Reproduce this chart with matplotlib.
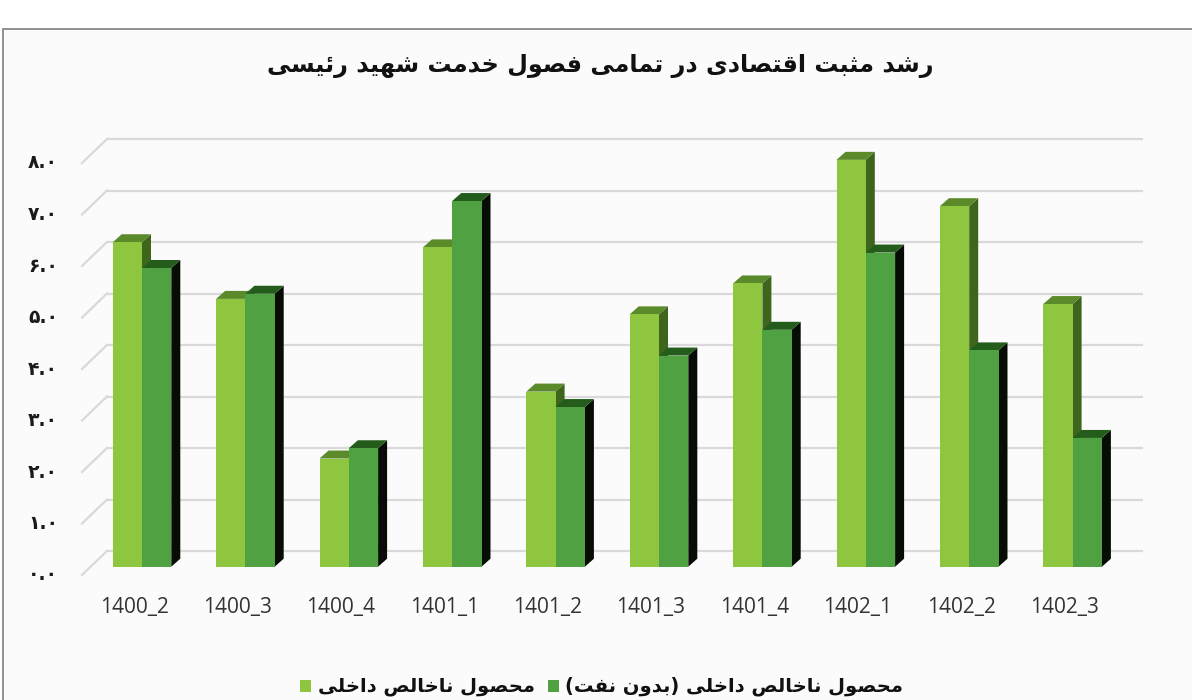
import numpy as np
import matplotlib
matplotlib.use("Agg")
import matplotlib.pyplot as plt
from matplotlib.patches import Polygon, Rectangle

# --- data ---------------------------------------------------------------
quarters = ["1400_2", "1400_3", "1400_4", "1401_1", "1401_2",
            "1401_3", "1401_4", "1402_1", "1402_2", "1402_3"]
gdp = [6.3, 5.2, 2.1, 6.2, 3.4, 4.9, 5.5, 7.9, 7.0, 5.1]
gdp_non_oil = [5.8, 5.3, 2.3, 7.1, 3.1, 4.1, 4.6, 6.1, 4.2, 2.5]
y_ticks = [0, 1, 2, 3, 4, 5, 6, 7, 8]

title = "رشد مثبت اقتصادی در تمامی فصول خدمت شهید رئیسی"
series_names = ["محصول ناخالص داخلی", "محصول ناخالص داخلی (بدون نفت)"]

# --- tiny arabic/persian shaper (no arabic_reshaper in sandbox) ---------
FORMS = {  # isolated base of presentation forms, dual joining?
    "\u0627": (0xFE8D, False), "\u0628": (0xFE8F, True), "\u062A": (0xFE95, True),
    "\u062B": (0xFE99, True), "\u062C": (0xFE9D, True), "\u062D": (0xFEA1, True),
    "\u062E": (0xFEA5, True), "\u062F": (0xFEA9, False), "\u0630": (0xFEAB, False),
    "\u0631": (0xFEAD, False), "\u0632": (0xFEAF, False), "\u0633": (0xFEB1, True),
    "\u0634": (0xFEB5, True), "\u0635": (0xFEB9, True), "\u0636": (0xFEBD, True),
    "\u0637": (0xFEC1, True), "\u0638": (0xFEC5, True), "\u0639": (0xFEC9, True),
    "\u063A": (0xFECD, True), "\u0641": (0xFED1, True), "\u0642": (0xFED5, True),
    "\u0644": (0xFEDD, True), "\u0645": (0xFEE1, True), "\u0646": (0xFEE5, True),
    "\u0647": (0xFEE9, True), "\u0648": (0xFEED, False), "\u0626": (0xFE89, True),
    "\u06CC": (0xFBFC, True), "\u064A": (0xFEF1, True),
}


def shape_fa(text):
    out = []
    n = len(text)
    for i, ch in enumerate(text):
        if ch not in FORMS:
            out.append(ch)
            continue
        base, dual = FORMS[ch]
        prev = text[i - 1] if i > 0 else ""
        nxt = text[i + 1] if i < n - 1 else ""
        join_prev = prev in FORMS and FORMS[prev][1]
        join_next = dual and nxt in FORMS
        if join_prev and join_next:
            code = base + 3
        elif join_prev:
            code = base + 1
        elif join_next:
            code = base + 2
        else:
            code = base
        out.append(chr(code))
    mirror = {"(": ")", ")": "("}
    return "".join(mirror.get(c, c) for c in reversed(out))


def fa_digits(s):
    return s.translate(str.maketrans("0123456789", "۰۱۲۳۴۵۶۷۸۹"))


# --- figure -------------------------------------------------------------
W, H = 1192, 700
fig = plt.figure(figsize=(W / 100, H / 100), dpi=100)
fig.patch.set_facecolor("white")
fig.patches.append(Rectangle((3 / W, -0.01), 1.01, 1 - 29 / H + 0.01,
                             transform=fig.transFigure, facecolor="#fbfbfb",
                             edgecolor="#7f7f7f", linewidth=1.2, zorder=-5))

px_x, px_y = 103.4, 51.5           # pixels per unit
x0_px, y0_px = 142.0, 566.7        # group 0 center / value 0 (from top)
ylo, yhi = -1.0, 9.5
ax = fig.add_axes([0, (H - (y0_px + px_y)) / H, 1, (yhi - ylo) * px_y / H])
ax.set_zorder(2)
ax.set_xlim(-x0_px / px_x, (W - x0_px) / px_x)
ax.set_ylim(ylo, yhi)
ax.axis("off")

w = 29.3 / px_x         # bar width
dx, dy = 9 / px_x, 8 / px_y          # depth of the bar tops
wall_dy = 15.7 / px_y                # back wall above bar front
front_dy = 8.3 / px_y                # axis labels in front of bars

# back wall grid + slanted ticks
gx0, gx1 = (107 - x0_px) / px_x, (1142 - x0_px) / px_x
tx0 = (82 - x0_px) / px_x
for t in y_ticks:
    ax.plot([gx0, gx1], [t + wall_dy, t + wall_dy], color="#d9d9d9", lw=1.6, zorder=1)
    ax.plot([tx0, gx0], [t - front_dy, t + wall_dy], color="#d9d9d9", lw=1.6, zorder=1)
    ax.text((58 - x0_px) / px_x, t - front_dy, fa_digits(f"{t}.0"), ha="right",
            va="center", fontsize=13.5, fontweight="bold", color="#1a1a1a",
            family="DejaVu Sans")

colors = [
    {"front": "#8ec63f", "top": "#5b8a2b", "side": "#3d661c"},
    {"front": "#4fa142", "top": "#245c1c", "side": "#070d05"},
]

x = np.arange(len(quarters))
for k, vals in enumerate([gdp, gdp_non_oil]):
    c = colors[k]
    lefts = x - w + k * w
    for xl, v in zip(lefts, vals):
        side = [(xl + w, 0), (xl + w, v), (xl + w + dx, v + dy), (xl + w + dx, dy)]
        top = [(xl, v), (xl + w, v), (xl + w + dx, v + dy), (xl + dx, v + dy)]
        ax.add_patch(Polygon(side, closed=True, facecolor=c["side"], lw=0, zorder=2 + k))
        ax.add_patch(Polygon(top, closed=True, facecolor=c["top"], lw=0, zorder=2 + k))
    ax.bar(lefts, vals, width=w, align="edge", color=c["front"], lw=0, zorder=2 + k)

for i, q in enumerate(quarters):
    ax.text(i - 8 / px_x, -(608 - y0_px) / px_y, q, ha="center", va="center",
            fontsize=15, color="#333333", family="Open Sans")

# title
fig.text(600 / W, 1 - 66 / H, shape_fa(title), ha="center", va="center",
         fontsize=17.2, fontweight="bold", color="#111111", family="DejaVu Sans")

# legend (keys on the left of each entry)
leg_y = 1 - 686 / H
for k, (sx, tx) in enumerate([(300, 318), (548, 565)]):
    fig.patches.append(Rectangle((sx / W, leg_y - 6 / H), 11 / W, 12 / H,
                                 transform=fig.transFigure,
                                 facecolor=colors[k]["front"], lw=0))
    fig.text(tx / W, leg_y, shape_fa(series_names[k]), ha="left", va="center",
             fontsize=14, fontweight="bold", color="#111111", family="DejaVu Sans")

fig.savefig("out.png", dpi=100, facecolor="white")
